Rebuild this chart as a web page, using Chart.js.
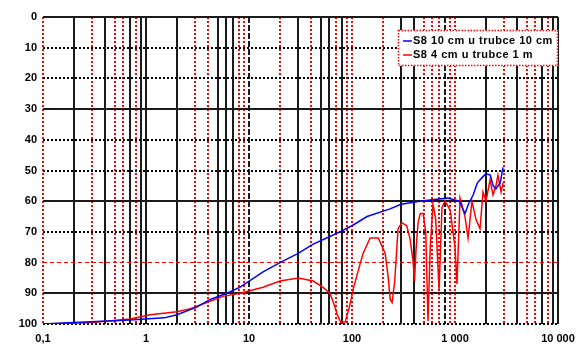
<!DOCTYPE html>
<html>
<head>
<meta charset="utf-8">
<script src="https://cdn.jsdelivr.net/npm/chart.js@4"></script>
<style>
  html, body { margin: 0; padding: 0; background: #fff; }
</style>
</head>
<body>
<canvas id="chart" width="588" height="351"></canvas>
<script>
// Frequency response, level vs. frequency (Hz), log axis
const blueLabel = 'S8 10 cm u trubce 10 cm';
const blueFreq  = [0.1, 0.2, 0.7, 1.5, 2, 3.1, 4.2, 6.1, 8.2, 13.7, 20, 30, 42, 61, 76, 100, 140, 234, 300, 457, 600, 850, 1100, 1250, 1350, 1500, 1650, 1870, 2000, 2200, 2350, 2500, 2750, 2920];
const blueLevel = [100, 99.5, 98.7, 98, 97, 94.5, 92, 90, 88, 83, 80, 77, 74, 71.5, 70, 68, 65, 62.5, 61, 60, 59.5, 59, 60, 64, 61, 58, 54, 52, 51, 51.5, 55, 56, 54, 49];

const redLabel = 'S8 4 cm u trubce 1 m';
const redFreq  = [0.1, 0.3, 0.7, 1.1, 2, 2.7, 3.9, 5.6, 8.2, 13.7, 20, 30, 42, 52, 61, 66, 72, 78, 86, 95, 104, 112, 128, 150, 180, 210, 225, 235, 245, 260, 280, 305, 340, 365, 390, 405, 418, 438, 460, 490, 520, 547, 575, 611, 650, 700, 748, 800, 900, 1000, 1045, 1120, 1250, 1340, 1460, 1600, 1750, 1870, 2000, 2190, 2340, 2500, 2610, 2800, 2924];
const redLevel = [100, 99.5, 98.4, 97, 96, 95, 93, 91, 90, 88, 86, 85, 86, 88, 90, 93, 97, 99.5, 99.3, 94, 88, 84, 77, 72, 72, 77, 85, 92, 93, 86, 69, 67, 68, 72, 79, 86, 76, 67, 64, 64, 70, 99, 75, 61, 66, 89, 62, 60, 63, 75, 87, 59, 65, 72, 60, 66, 69, 57, 60, 53, 58, 55, 51.5, 57, 54];

const xDecades = [0.1, 1, 10, 100, 1000, 10000];
const xTickLabels = ['0,1', '1', '10', '100', '1 000', '10 000'];
const yTicks = [0, 10, 20, 30, 40, 50, 60, 70, 80, 90, 100];

// grid line looks: k = solid black, r = red dots, d = black dashes, o = black dots, h = red dashes
const lineStyles = {
    k: { color: '#1a1a1a', width: 2, dash: [] },
    r: { color: '#ff0000', width: 2, dash: [2, 2] },
    d: { color: '#1a1a1a', width: 2, dash: [6, 2] },
    o: { color: '#000', width: 2, dash: [2, 2] },
    h: { color: '#ff0000', width: 1, dash: [4, 3] }
};
// one string per decade, one letter per multiplier 1..9
const xGridPattern = ['rkrkrrkrk', 'kkrrkkkrr', 'drkrkkrkr', 'rrkkrrrdr', 'rkrkrrkrk', 'k'];
const yGridPattern = ['k', 'o', 'o', 'k', 'o', 'o', 'k', 'o', 'h', 'k', 'o'];

function xStyle(v) {
    const e = Math.floor(Math.log10(v) + 1e-9);
    const m = Math.round(v / Math.pow(10, e));
    const row = xGridPattern[e + 1] || 'k';
    return lineStyles[row[m - 1] || 'k'];
}
function yStyle(v) {
    return lineStyles[yGridPattern[Math.round(v / 10)] || 'o'];
}

const toPoints = (xs, ys) => xs.map((x, i) => ({ x: x, y: ys[i] }));

// boxed legend in the upper right corner of the plot
const legendBox = {
    id: 'legendBox',
    afterDraw(chart) {
        const { ctx, chartArea } = chart;
        const w = 160, h = 36;
        const x0 = chartArea.right - w, y0 = chartArea.top + 13;
        ctx.save();
        ctx.fillStyle = '#fff';
        ctx.fillRect(x0, y0, w, h);
        ctx.strokeStyle = '#ff0000';
        ctx.lineWidth = 1.5;
        ctx.setLineDash([1.5, 1.5]);
        ctx.strokeRect(x0 + 0.5, y0 + 0.5, w - 1, h - 1);
        ctx.setLineDash([]);
        ctx.font = 'bold 11px "Liberation Sans", Arial, sans-serif';
        ctx.letterSpacing = '0.5px';
        ctx.textBaseline = 'middle';
        chart.data.datasets.forEach((ds, i) => {
            const y = y0 + 11 + i * 14;
            ctx.strokeStyle = ds.borderColor;
            ctx.lineWidth = 1.5;
            ctx.beginPath();
            ctx.moveTo(x0 + 5, y);
            ctx.lineTo(x0 + 14, y);
            ctx.stroke();
            ctx.fillStyle = '#000';
            ctx.fillText(ds.label, x0 + 15, y);
        });
        ctx.restore();
    }
};

const tickFont = { family: '"Liberation Sans", Arial, sans-serif', size: 11, weight: 'bold' };

new Chart(document.getElementById('chart').getContext('2d'), {
    type: 'line',
    data: {
        datasets: [
            {
                label: blueLabel,
                data: toPoints(blueFreq, blueLevel),
                borderColor: '#0000ff',
                borderWidth: 1.5,
                pointRadius: 0,
                tension: 0
            },
            {
                label: redLabel,
                data: toPoints(redFreq, redLevel),
                borderColor: '#ff0000',
                borderWidth: 1.5,
                pointRadius: 0,
                tension: 0
            }
        ]
    },
    options: {
        responsive: false,
        animation: false,
        layout: { padding: { top: 17, right: 30, left: 0, bottom: 0 } },
        plugins: { legend: { display: false }, tooltip: { enabled: false } },
        scales: {
            x: {
                type: 'logarithmic',
                min: 0.1,
                max: 10000,
                afterBuildTicks: (scale) => {
                    const ticks = [];
                    xDecades.forEach((d, i) => {
                        const top = i === xDecades.length - 1 ? 1 : 9;
                        for (let m = 1; m <= top; m++) ticks.push({ value: +(d * m).toPrecision(6) });
                    });
                    scale.ticks = ticks;
                },
                afterFit: (scale) => { scale.height = 27; },
                ticks: {
                    autoSkip: false,
                    maxRotation: 0,
                    padding: 8,
                    color: '#000',
                    font: tickFont,
                    callback: (v) => {
                        const i = xDecades.findIndex(d => Math.abs(d - v) < d * 1e-6);
                        return i >= 0 ? xTickLabels[i] : '';
                    }
                },
                grid: {
                    drawTicks: false,
                    color: (c) => xStyle(c.tick.value).color,
                    lineWidth: (c) => xStyle(c.tick.value).width
                },
                border: {
                    display: false,
                    dash: (c) => c.tick ? xStyle(c.tick.value).dash : []
                }
            },
            y: {
                reverse: true,
                min: 0,
                max: 100,
                afterBuildTicks: (scale) => { scale.ticks = yTicks.map(v => ({ value: v })); },
                afterFit: (scale) => { scale.width = 43; },
                ticks: {
                    padding: 6,
                    color: '#000',
                    font: tickFont
                },
                grid: {
                    drawTicks: false,
                    color: (c) => yStyle(c.tick.value).color,
                    lineWidth: (c) => yStyle(c.tick.value).width
                },
                border: {
                    display: false,
                    dash: (c) => c.tick ? yStyle(c.tick.value).dash : []
                }
            }
        }
    },
    plugins: [legendBox]
});
</script>
</body>
</html>
